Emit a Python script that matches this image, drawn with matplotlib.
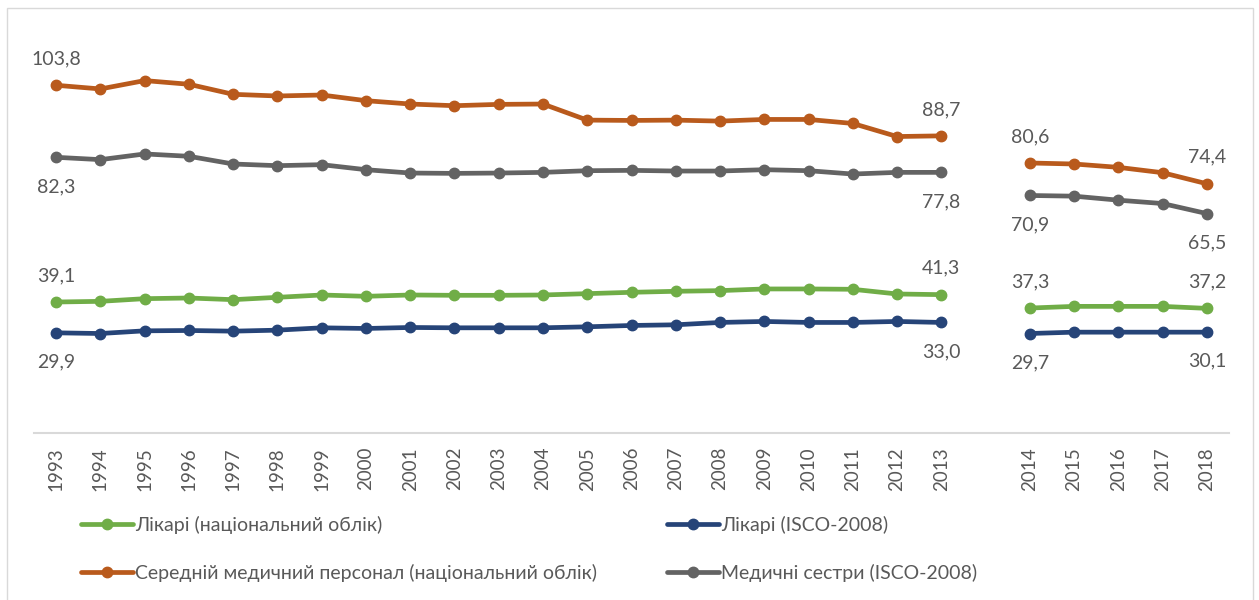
import numpy as np
import matplotlib
matplotlib.use("Agg")
import matplotlib.pyplot as plt
from matplotlib.patches import Rectangle

plt.rcParams['font.family'] = ['Lato', 'DejaVu Sans']

# Years: national series 1993-2013, then a gap, then 2014-2018
years_a = [str(y) for y in range(1993, 2014)]
years_b = [str(y) for y in range(2014, 2019)]

# Лікарі (національний облік)
doctors_nat_a = [39.1, 39.3, 40.1, 40.3, 39.8, 40.5, 41.2, 40.8, 41.2, 41.1, 41.1,
                 41.2, 41.6, 42.0, 42.3, 42.5, 43.0, 43.0, 42.9, 41.5, 41.3]
doctors_nat_b = [37.3, 37.8, 37.8, 37.8, 37.2]

# Лікарі (ISCO-2008)
doctors_isco_a = [29.9, 29.7, 30.5, 30.6, 30.4, 30.7, 31.4, 31.2, 31.5, 31.4, 31.4,
                  31.4, 31.7, 32.1, 32.3, 33.0, 33.3, 33.0, 33.0, 33.3, 33.0]
doctors_isco_b = [29.7, 30.1, 30.1, 30.1, 30.1]

# Середній медичний персонал (національний облік)
mid_staff_a = [103.8, 102.7, 105.2, 104.1, 101.1, 100.6, 100.9, 99.2, 98.2, 97.7, 98.1,
               98.2, 93.4, 93.3, 93.4, 93.1, 93.6, 93.6, 92.4, 88.5, 88.7]
mid_staff_b = [80.6, 80.3, 79.3, 77.7, 74.4]

# Медичні сестри (ISCO-2008)
nurses_a = [82.3, 81.6, 83.3, 82.6, 80.3, 79.8, 80.1, 78.6, 77.6, 77.5, 77.6,
            77.8, 78.3, 78.4, 78.2, 78.2, 78.6, 78.3, 77.3, 77.8, 77.8]
nurses_b = [70.9, 70.7, 69.5, 68.5, 65.5]

labels = ['Лікарі (національний облік)', 'Лікарі (ISCO-2008)',
          'Середній медичний персонал (національний облік)', 'Медичні сестри (ISCO-2008)']
colors = ['#70AD47', '#264478', '#B95A1C', '#636363']

series = [(doctors_nat_a, doctors_nat_b), (doctors_isco_a, doctors_isco_b),
          (mid_staff_a, mid_staff_b), (nurses_a, nurses_b)]
# first/last value labels go above or below the point
label_side = ['up', 'down', 'up', 'down']

xa = np.arange(len(years_a))
xb = np.arange(len(years_b)) + len(years_a) + 1

fig = plt.figure(figsize=(12.59, 6.0), dpi=100)
fig.patches.append(Rectangle((7 / 1259, -0.1), (1253 - 7) / 1259, 1.1 - 8 / 600,
                             transform=fig.transFigure, fill=False,
                             edgecolor='#D9D9D9', linewidth=1.0))
ax = fig.add_axes([34 / 1259, 1 - 433 / 600, (1229 - 34) / 1259, (433 - 31) / 600])

label_color = '#595959'
handles = []
for (sa, sb), col, lab, side in zip(series, colors, labels, label_side):
    kw = dict(color=col, linewidth=3.4, marker='o', markersize=7.5,
              solid_capstyle='round')
    h, = ax.plot(xa, sa, label=lab, **kw)
    ax.plot(xb, sb, **kw)
    handles.append(h)
    dy = 19 if side == 'up' else -21
    for x, seg in ((xa, sa), (xb, sb)):
        for xi, v in ((x[0], seg[0]), (x[-1], seg[-1])):
            ax.annotate(f"{v:.1f}".replace('.', ','), (xi, v), xytext=(0, dy),
                        textcoords='offset points', ha='center', va='center',
                        fontsize=14, color=label_color)

ax.set_xlim(-0.5, len(years_a) + len(years_b) + 0.5)
ax.set_ylim(0, 120)
ax.set_xticks(list(xa) + list(xb))
ax.set_xticklabels(years_a + years_b, rotation=90, fontsize=13.5, color=label_color)
ax.tick_params(axis='x', length=0, pad=10)
ax.set_yticks([])
for spine in ('top', 'left', 'right'):
    ax.spines[spine].set_visible(False)
ax.spines['bottom'].set_color('#D9D9D9')
ax.spines['bottom'].set_linewidth(1.5)

# legend: green/orange in the first column, blue/gray in the second
order = [0, 2, 1, 3]
fig.legend([handles[i] for i in order], [labels[i] for i in order],
           ncol=2, loc='upper left', bbox_to_anchor=(63 / 1259, 1 - 498 / 600),
           frameon=False, fontsize=14, labelcolor=label_color,
           handlelength=2.7, handletextpad=0.1, columnspacing=3.6,
           labelspacing=1.55)

fig.savefig('out.png', dpi=100, facecolor='white')
